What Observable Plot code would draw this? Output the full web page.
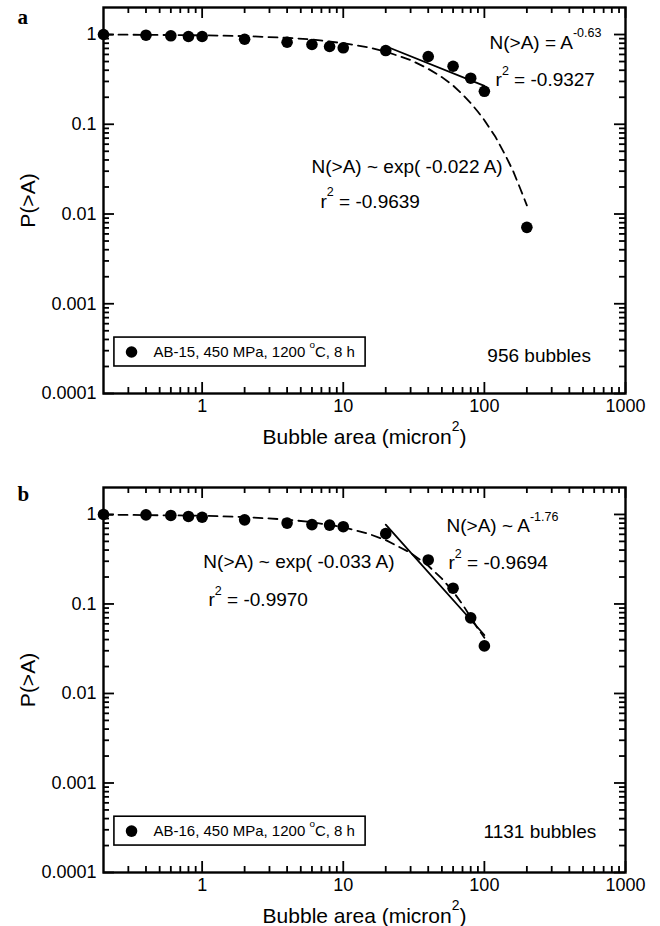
<!DOCTYPE html>
<html>
<head>
<meta charset="utf-8">
<script src="https://cdn.jsdelivr.net/npm/d3@7"></script>
<script src="https://cdn.jsdelivr.net/npm/@observablehq/plot@0.6"></script>
<style>
  html, body { margin: 0; padding: 0; background: #fff; }
  #chart svg { display: block; }
</style>
</head>
<body>
<div id="chart"></div>
<script>
// ---------- data ----------
const areasA = [0.2, 0.4, 0.6, 0.8, 1, 2, 4, 6, 8, 10, 20, 40, 60, 80, 100, 200];
const probA  = [1.0, 0.982, 0.967, 0.95, 0.95, 0.886, 0.82, 0.774, 0.735, 0.711, 0.663, 0.569, 0.443, 0.326, 0.233, 0.0071];
const areasB = [0.2, 0.4, 0.6, 0.8, 1, 2, 4, 6, 8, 10, 20, 40, 60, 80, 100];
const probB  = [1.0, 0.99, 0.975, 0.95, 0.93, 0.87, 0.80, 0.77, 0.76, 0.73, 0.61, 0.31, 0.15, 0.07, 0.034];

// exponential fits (dashed)
const expFitAx = [0.2, 1, 2, 4, 6, 10, 15, 20, 30, 40, 50, 60, 70, 80, 90, 100, 120, 140, 160, 180, 200];
const expFitAy = [1.0, 0.98, 0.96, 0.92, 0.88, 0.80, 0.72, 0.645, 0.52, 0.415, 0.335, 0.27, 0.215, 0.172, 0.138, 0.111, 0.072, 0.046, 0.030, 0.019, 0.0125];
const expFitBx = [0.2, 1, 2, 4, 6, 10, 15, 20, 30, 40, 50, 60, 70, 80, 90, 100];
const expFitBy = [0.995, 0.968, 0.936, 0.876, 0.82, 0.72, 0.61, 0.517, 0.372, 0.267, 0.192, 0.138, 0.099, 0.071, 0.053, 0.042];

// power-law fits (solid)
const powFitAx = [20, 100];
const powFitAy = [0.74, 0.268];
const powFitBx = [20, 100];
const powFitBy = [0.77, 0.045];

// annotations (text, anchor in data units)
const notesAText = ["N(>A) = A^-0.63^", "r^2^ = -0.9327", "N(>A) ~ exp( -0.022 A)", "r^2^ = -0.9639", "956 bubbles"];
const notesAX = [108.7, 120, 5.96, 6.9, 105];
const notesAY = [0.698, 0.264, 0.0283, 0.0118, 0.000222];
const notesBText = ["N(>A) ~ exp( -0.033 A)", "r^2^ = -0.9970", "N(>A) ~ A^-1.76^", "r^2^ = -0.9694", "1131 bubbles"];
const notesBX = [1.02, 1.11, 53.9, 55.7, 98.6];
const notesBY = [0.2503, 0.0944, 0.631, 0.244, 0.000245];

const legendA = "AB-15, 450 MPa, 1200 ^o^C, 8 h";
const legendB = "AB-16, 450 MPa, 1200 ^o^C, 8 h";

// axes
const xTicks = [1, 10, 100, 1000];
const xTickLabels = ["1", "10", "100", "1000"];
const yTicks = [0.0001, 0.001, 0.01, 0.1, 1];
const yTickLabels = ["0.0001", "0.001", "0.01", "0.1", "1"];
const xTitle = "Bubble area (micron^2^)";
const yTitle = "P(>A)";

const xMinor = [0.2, 1, 10, 100].flatMap(d => [2,3,4,5,6,7,8,9].map(k => +(k * (d === 0.2 ? 0.1 : d)).toPrecision(3))).filter(v => v > 0.2 && v < 1000);
const yMinor = [0.0001, 0.001, 0.01, 0.1].flatMap(d => [2,3,4,5,6,7,8,9].map(k => +(k * d).toPrecision(3)));

const xFmt = d => xTickLabels[xTicks.indexOf(d)];
const yFmt = d => yTickLabels[yTicks.indexOf(d)];

function panel({letter, letterDy, mt, mb, ax, ay, ex, ey, px, py, nt, nx, ny, legend}) {
  const W = 660, H = 463, ml = 103, mr = 35;
  const fw = W - ml - mr, fh = H - mt - mb;
  const pts = ax.map((a, i) => ({a, p: ay[i]}));
  const efit = ex.map((a, i) => ({a, p: ey[i]}));
  const pfit = px.map((a, i) => ({a, p: py[i]}));
  const notes = nt.map((t, i) => ({t, a: nx[i], p: ny[i]}));
  const sw = 1.8;
  return Plot.plot({
    width: W, height: H,
    marginLeft: ml, marginRight: mr, marginTop: mt, marginBottom: mb,
    x: {type: "log", domain: [0.2, 1000]},
    y: {type: "log", domain: [0.0001, 2]},
    style: {fontFamily: "'Liberation Sans', Arial, Helvetica, sans-serif", fontSize: "18px", color: "black", background: "white"},
    marks: [
      Plot.axisX({ticks: xTicks, tickFormat: xFmt, tickSize: 0, tickPadding: 6, fontSize: 18}),
      Plot.axisY({ticks: yTicks, tickFormat: yFmt, tickSize: 0, tickPadding: 7, fontSize: 18}),
      // inward ticks on all four sides
      Plot.tickY(yTicks, {y: d => d, insetRight: fw - 11, stroke: "black", strokeWidth: sw}),
      Plot.tickY(yTicks, {y: d => d, insetLeft: fw - 11, stroke: "black", strokeWidth: sw}),
      Plot.tickY(yMinor, {y: d => d, insetRight: fw - 6, stroke: "black", strokeWidth: sw}),
      Plot.tickY(yMinor, {y: d => d, insetLeft: fw - 6, stroke: "black", strokeWidth: sw}),
      Plot.tickX(xTicks, {x: d => d, insetTop: fh - 11, stroke: "black", strokeWidth: sw}),
      Plot.tickX(xTicks, {x: d => d, insetBottom: fh - 11, stroke: "black", strokeWidth: sw}),
      Plot.tickX(xMinor, {x: d => d, insetTop: fh - 6, stroke: "black", strokeWidth: sw}),
      Plot.tickX(xMinor, {x: d => d, insetBottom: fh - 6, stroke: "black", strokeWidth: sw}),
      Plot.frame({stroke: "black", strokeWidth: 2.4}),
      // fits
      Plot.line(efit, {x: "a", y: "p", stroke: "black", strokeWidth: 1.8, strokeDasharray: "9,6"}),
      Plot.line(pfit, {x: "a", y: "p", stroke: "black", strokeWidth: 1.8}),
      // data
      Plot.dot(pts, {x: "a", y: "p", r: 5.8, fill: "black", stroke: "none"}),
      // annotations
      Plot.text(notes, {x: "a", y: "p", text: "t", textAnchor: "start", lineAnchor: "bottom", fontSize: 19}),
      // legend
      Plot.rect([{x1: 0.239, x2: 14.4, y1: 0.0002, y2: 0.00042}], {x1: "x1", x2: "x2", y1: "y1", y2: "y2", fill: "white", stroke: "black", strokeWidth: 1.6}),
      Plot.dot([{a: 0.316, p: 0.00029}], {x: "a", y: "p", r: 5.8, fill: "black", stroke: "none"}),
      Plot.text([{a: 0.452, p: 0.00029, t: legend}], {x: "a", y: "p", text: "t", textAnchor: "start", lineAnchor: "middle", fontSize: 15}),
      // titles
      Plot.text([xTitle], {frameAnchor: "bottom", dy: 50, lineAnchor: "bottom", textAnchor: "middle", fontSize: 21}),
      Plot.text([yTitle], {frameAnchor: "left", dx: -75, rotate: -90, textAnchor: "middle", lineAnchor: "middle", fontSize: 21}),
      Plot.text([letter], {frameAnchor: "top-left", dx: -86, dy: letterDy, lineAnchor: "bottom", textAnchor: "start",
        fontFamily: "'Liberation Serif', 'Times New Roman', serif", fontWeight: "bold", fontSize: 21})
    ]
  });
}

function applySup(svg) {
  const ns = "http://www.w3.org/2000/svg";
  svg.querySelectorAll("text").forEach(t => {
    const s = t.textContent;
    if (!s.includes("^")) return;
    const fs = parseFloat(getComputedStyle(t).fontSize) || 18;
    const parts = s.split("^");
    t.textContent = "";
    let cur = 0;
    parts.forEach((p, i) => {
      if (!p) return;
      const sup = i % 2 === 1;
      const sp = document.createElementNS(ns, "tspan");
      sp.textContent = p;
      const want = sup ? -0.6 * fs : 0;
      if (sup) sp.setAttribute("font-size", (0.66 * fs).toFixed(1));
      if (want !== cur) sp.setAttribute("dy", (want - cur).toFixed(1));
      cur = want;
      t.appendChild(sp);
    });
  });
}

const chart = document.getElementById("chart");
const a = panel({letter: "a", letterDy: 16, mt: 7, mb: 70, ax: areasA, ay: probA, ex: expFitAx, ey: expFitAy,
  px: powFitAx, py: powFitAy, nt: notesAText, nx: notesAX, ny: notesAY, legend: legendA});
const b = panel({letter: "b", letterDy: 13, mt: 24, mb: 54, ax: areasB, ay: probB, ex: expFitBx, ey: expFitBy,
  px: powFitBx, py: powFitBy, nt: notesBText, nx: notesBX, ny: notesBY, legend: legendB});
chart.appendChild(a);
chart.appendChild(b);
applySup(a);
applySup(b);
</script>
</body>
</html>
